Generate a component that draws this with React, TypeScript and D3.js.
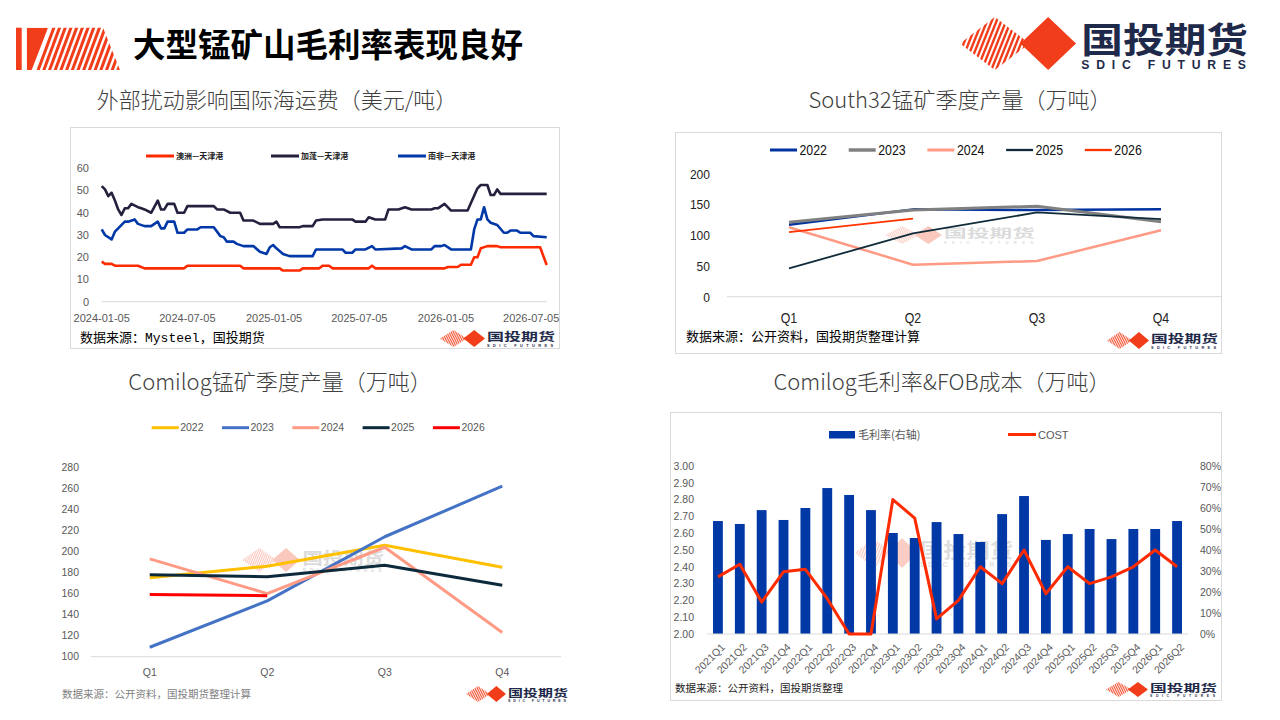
import React from "react";
import * as d3 from "d3";

const CJK = '"Noto Sans CJK SC", "Noto Sans", sans-serif';
const SANS = '"Liberation Sans", Arial, sans-serif';
const MONO = '"Liberation Mono", "DejaVu Sans Mono", monospace';

const RED = "#f23d1a";
const NAVY = "#1f2a4a";
const GRID = "#d9d9d9";
const TICK = "#595959";

// 外部扰动影响国际海运费: [week index from start, 美元/吨]
const freightStart = "2024-01-05";
const freightWeeks = 135;
const freightTicks = ["2024-01-05", "2024-07-05", "2025-01-05", "2025-07-05", "2026-01-05", "2026-07-05"];
const freightNames = ["澳洲—天津港", "加蓬—天津港", "南非—天津港"];
const freightColors = ["#ff2b00", "#24213f", "#0038a8"];
const australia: [number, number][] = [
  [0, 18], [1, 17], [3, 17], [4, 16.2], [11, 16.2], [13, 15], [25, 15], [26, 16.2], [42, 16.2], [43, 15],
  [54, 15], [55, 14], [60, 14], [61, 15], [66, 15], [67, 16.2], [69, 16.2], [70, 15], [81, 15], [82, 16.2],
  [83, 15], [104, 15], [105, 15.6], [108, 15.6], [109, 16.6], [112, 16.6], [113, 20], [114, 20], [115, 24],
  [117, 25], [120, 25], [121, 24.5], [133, 24.5], [135, 16.5],
];
const gabon: [number, number][] = [
  [0, 52], [1, 50.5], [2, 47.5], [3, 49], [4, 45.5], [5, 41.5], [6, 39], [7, 42], [8, 42], [9, 44], [11, 42.5],
  [12, 42], [13, 41.5], [15, 40], [17, 45.5], [18, 41.5], [19, 41.5], [20, 44], [22, 44], [23, 40], [25, 40],
  [26, 43], [34, 43], [35, 41.5], [37, 41.5], [39, 40], [42, 40], [43, 36.5], [46, 36.5], [48, 35], [52, 35],
  [53, 36], [54, 33.5], [60, 33.5], [61, 34], [64, 34], [65, 36.5], [67, 37], [76, 37], [77, 36], [80, 36],
  [81, 38], [83, 37], [86, 37], [87, 41.5], [90, 41.5], [92, 42.5], [94, 41.5], [100, 41.5], [101, 42],
  [102, 42], [104, 44], [106, 41], [111, 41], [114, 51], [115, 52.5], [117, 52.5], [118, 48], [119, 48],
  [120, 50.5], [121, 48.5], [135, 48.5],
];
const southAfrica: [number, number][] = [
  [0, 32.5], [1, 30], [3, 28], [4, 31.5], [5, 33], [7, 36], [8, 36], [10, 37], [11, 35], [13, 34], [15, 34],
  [17, 36], [18, 33], [19, 33], [20, 36], [22, 36], [23, 31], [25, 31], [26, 32.5], [29, 32.5], [30, 33.5],
  [34, 33.5], [36, 29.5], [37, 29], [38, 27], [40, 27], [41, 26], [43, 25], [46, 25], [48, 22.5], [50, 21.5],
  [51, 24.5], [52, 25.5], [53, 24], [55, 21.5], [57, 20.5], [64, 20.5], [65, 23.5], [73, 23.5], [74, 22],
  [76, 22], [77, 23.5], [80, 23.5], [82, 25], [83, 23.5], [91, 24], [92, 25], [94, 23.5], [100, 23.5],
  [101, 25], [103, 25], [104, 25.5], [106, 23.5], [112, 23.5], [113, 32.5], [114, 37], [115, 37], [116, 42.5],
  [117, 37], [118, 35.5], [120, 34.5], [122, 31], [123, 31], [124, 32], [126, 32], [127, 31], [130, 31],
  [131, 29.5], [135, 29],
];

// South32 / Comilog 季度产量（万吨）
const quarters = ["Q1", "Q2", "Q3", "Q4"];
const yearNames = ["2022", "2023", "2024", "2025", "2026"];
const s32_2022 = [117, 142, 141, 142];
const s32_2023 = [121, 141, 147, 122];
const s32_2024 = [113, 52, 58, 108];
const s32_2025 = [46, 103, 137, 126];
const s32_2026 = [105, 127];
const s32Colors = ["#0033a0", "#808080", "#ff9a85", "#0f2b3a", "#ff3300"];
const s32Widths = [2.5, 3, 2.5, 1.8, 1.8];

const com_2022 = [175, 186, 206, 185];
const com_2023 = [109, 153, 214, 262];
const com_2024 = [193, 160, 204, 123];
const com_2025 = [178, 176, 187, 168];
const com_2026 = [159, 158];
const comColors = ["#ffc000", "#4472c4", "#ff9a85", "#0d2a3c", "#ff0000"];

// Comilog 毛利率 & FOB 成本
const periods = [
  "2021Q1", "2021Q2", "2021Q3", "2021Q4", "2022Q1", "2022Q2", "2022Q3", "2022Q4",
  "2023Q1", "2023Q2", "2023Q3", "2023Q4", "2024Q1", "2024Q2", "2024Q3", "2024Q4",
  "2025Q1", "2025Q2", "2025Q3", "2025Q4", "2026Q1", "2026Q2",
];
const grossMargin = [
  0.538, 0.524, 0.59, 0.543, 0.6, 0.695, 0.662, 0.59, 0.481, 0.457, 0.533,
  0.476, 0.438, 0.571, 0.657, 0.448, 0.476, 0.5, 0.452, 0.5, 0.5, 0.538,
];
const fobCost = [
  2.34, 2.415, 2.19, 2.37, 2.385, 2.21, 2.0, 2.0, 2.8, 2.69, 2.09,
  2.2, 2.4, 2.3, 2.5, 2.24, 2.4, 2.3, 2.34, 2.4, 2.5, 2.4,
];

const diamond = (cx: number, cy: number, hw: number, hh: number) =>
  `${cx - hw},${cy} ${cx},${cy - hh} ${cx + hw},${cy} ${cx},${cy + hh}`;

function Logo({ id, x, y, w, h, gw, text = NAVY, opacity = 1 }: {
  id: string; x: number; y: number; w: number; h: number; gw: number; text?: string; opacity?: number;
}) {
  const cy = y + h / 2;
  const hx = x + gw * 0.3, hw = gw * 0.3;
  const sx = x + gw * 0.76, sw = gw * 0.24;
  const gap = Math.max(1.8, h * 0.09);
  const slant = h * 0.4;
  const stripes = d3.range(x - slant, x + gw * 0.62, gap);
  const tx = x + gw + Math.max(2, h * 0.1);
  const tw = x + w - tx;
  return (
    <g opacity={opacity}>
      <clipPath id={id}>
        <polygon points={diamond(hx, cy, hw, h / 2)} />
      </clipPath>
      <g clipPath={`url(#${id})`}>
        {stripes.map((s, i) => (
          <line key={i} x1={s} y1={y + h} x2={s + slant} y2={y} stroke={RED} strokeWidth={gap * 0.5} />
        ))}
      </g>
      <polygon points={diamond(sx, cy, sw, h / 2)} fill={RED} />
      <text x={tx} y={y + h * 0.67} fontSize={h * 0.67} fontWeight={700} fill={text} fontFamily={CJK}
        textLength={tw} lengthAdjust="spacingAndGlyphs">国投期货</text>
      <text x={tx} y={y + h * 0.98} fontSize={h * 0.23} fontWeight={700} fill={text} fontFamily={SANS}
        textLength={tw - 2} lengthAdjust="spacing">SDIC FUTURES</text>
    </g>
  );
}

function Header() {
  const stripes = d3.range(1, 16);
  return (
    <g>
      <rect x={16} y={27.7} width={5.7} height={42.3} fill={RED} />
      <clipPath id="hdr-clip">
        <polygon points="26.7,27.7 103,27.7 120,70 26.7,70" />
      </clipPath>
      <g clipPath="url(#hdr-clip)">
        <polygon points="26.7,27.7 48,27.7 31.7,70 26.7,70" fill={RED} />
        {stripes.map((k) => (
          <line key={k} x1={31.7 + k * 5.7} y1={72} x2={48 + k * 5.7 + 0.8} y2={26} stroke={RED} strokeWidth={3} />
        ))}
      </g>
      <text x={133} y={57} fontSize={32.5} fontWeight={700} fill="#000" fontFamily={CJK}>大型锰矿山毛利率表现良好</text>
      <Logo id="lg-top" x={960} y={17} w={288} h={53} gw={116} />
    </g>
  );
}

function Title({ x, y, children }: { x: number; y: number; children: string }) {
  return (
    <text x={x} y={y} textAnchor="middle" fontSize={22} fontWeight={300} fill="#404040" fontFamily={CJK}>
      {children}
    </text>
  );
}

function FreightChart() {
  const parse = d3.timeParse("%Y-%m-%d");
  const t0 = parse(freightStart)!;
  const x = d3.scaleTime().domain([t0, d3.timeDay.offset(t0, freightWeeks * 7)]).range([101.7, 546.7]);
  const y = d3.scaleLinear().domain([0, 60]).range([301.7, 168.3]);
  const line = d3.line<[number, number]>()
    .x((d) => x(d3.timeDay.offset(t0, d[0] * 7)))
    .y((d) => y(d[1]));
  const series = [australia, gabon, southAfrica];
  const legendX = [146, 271, 398];
  return (
    <g>
      <Title x={277} y={108}>外部扰动影响国际海运费（美元/吨）</Title>
      <clipPath id="fr-box">
        <rect x={70} y={127} width={490} height={222} />
      </clipPath>
      <rect x={70.5} y={127.5} width={489} height={221} fill="#fff" stroke={GRID} />
      {freightNames.map((n, i) => (
        <g key={n}>
          <line x1={legendX[i]} x2={legendX[i] + 28} y1={156} y2={156} stroke={freightColors[i]} strokeWidth={3} />
          <text x={legendX[i] + 30} y={156} dy="0.35em" fontSize={8} fontWeight={700} fill="#222" fontFamily={CJK}>{n}</text>
        </g>
      ))}
      {y.ticks(6).map((v) => (
        <text key={v} x={89} y={y(v)} dy="0.35em" textAnchor="end" fontSize={11} fill={TICK} fontFamily={SANS}>{v}</text>
      ))}
      <line x1={101.7} x2={546.7} y1={301.7} y2={301.7} stroke={GRID} />
      <g clipPath="url(#fr-box)">
        {freightTicks.map((t) => (
          <text key={t} x={x(parse(t)!)} y={322} textAnchor="middle" fontSize={11} fill={TICK} fontFamily={SANS}>{t}</text>
        ))}
      </g>
      {series.map((s, i) => (
        <path key={i} d={line(s)!} fill="none" stroke={freightColors[i]} strokeWidth={2.6} strokeLinejoin="round" />
      ))}
      <text x={80} y={342} fontSize={13} fill="#000" fontFamily={CJK}>
        数据来源：<tspan fontFamily={MONO}>Mysteel</tspan>，国投期货
      </text>
      <Logo id="lg1" x={440} y={330} w={115} h={17} gw={45} />
    </g>
  );
}

function South32Chart() {
  const x = d3.scaleBand<string>().domain(quarters).range([727, 1223]);
  const y = d3.scaleLinear().domain([0, 200]).range([296.7, 173.7]);
  const line = d3.line<number>()
    .x((_, i) => x(quarters[i])! + x.bandwidth() / 2)
    .y((d) => y(d));
  const series = [s32_2022, s32_2023, s32_2024, s32_2025, s32_2026];
  return (
    <g>
      <Title x={960} y={108}>South32锰矿季度产量（万吨）</Title>
      <rect x={675.5} y={132.5} width={546} height={221} fill="#fff" stroke={GRID} />
      {yearNames.map((n, i) => {
        const lx = 770 + i * 78.7;
        return (
          <g key={n}>
            <line x1={lx} x2={lx + 27} y1={150} y2={150} stroke={s32Colors[i]} strokeWidth={s32Widths[i] + 0.5} />
            <text x={lx + 29.5} y={150} dy="0.36em" fontSize={14.5} fill="#111" fontFamily={SANS}
              textLength={27.5} lengthAdjust="spacingAndGlyphs">{n}</text>
          </g>
        );
      })}
      {y.ticks(4).map((v) => (
        <text key={v} x={710} y={y(v)} dy="0.36em" textAnchor="end" fontSize={13.5} fill="#222" fontFamily={SANS}
          textLength={String(v).length * 6.7} lengthAdjust="spacingAndGlyphs">{v}</text>
      ))}
      <line x1={727} x2={1222} y1={296.7} y2={296.7} stroke={GRID} />
      {quarters.map((q) => (
        <text key={q} x={x(q)! + x.bandwidth() / 2} y={323} textAnchor="middle" fontSize={14.5} fill="#222" fontFamily={SANS}
          textLength={16.5} lengthAdjust="spacingAndGlyphs">{q}</text>
      ))}
      <Logo id="wm2" x={885} y={226} w={150} h={18} gw={57} text="#7f7f7f" opacity={0.28} />
      {series.map((s, i) => (
        <path key={i} d={line(s)!} fill="none" stroke={s32Colors[i]} strokeWidth={s32Widths[i]} strokeLinejoin="round" />
      ))}
      <text x={686} y={341} fontSize={13} fill="#000" fontFamily={CJK}>数据来源：公开资料，国投期货整理计算</text>
      <Logo id="lg2" x={1107} y={332} w={111} h={17} gw={42} />
    </g>
  );
}

function ComilogChart() {
  const x = d3.scaleBand<string>().domain(quarters).range([91, 561]);
  const y = d3.scaleLinear().domain([100, 280]).range([656.7, 467.3]);
  const line = d3.line<number>()
    .x((_, i) => x(quarters[i])! + x.bandwidth() / 2)
    .y((d) => y(d));
  const series = [com_2022, com_2023, com_2024, com_2025, com_2026];
  return (
    <g>
      <Title x={280} y={390}>Comilog锰矿季度产量（万吨）</Title>
      {yearNames.map((n, i) => {
        const lx = 151.7 + i * 70.3;
        return (
          <g key={n}>
            <line x1={lx} x2={lx + 27} y1={427.7} y2={427.7} stroke={comColors[i]} strokeWidth={3} />
            <text x={lx + 28.5} y={427.7} dy="0.36em" fontSize={10.5} fill={TICK} fontFamily={SANS}>{n}</text>
          </g>
        );
      })}
      {y.ticks(9).map((v) => (
        <text key={v} x={79} y={y(v)} dy="0.36em" textAnchor="end" fontSize={10.5} fill={TICK} fontFamily={SANS}>{v}</text>
      ))}
      <line x1={91} x2={561} y1={656.7} y2={656.7} stroke={GRID} />
      {quarters.map((q) => (
        <text key={q} x={x(q)! + x.bandwidth() / 2} y={675.5} textAnchor="middle" fontSize={10.5} fill={TICK} fontFamily={SANS}>{q}</text>
      ))}
      <Logo id="wm3" x={242} y={548} w={142} h={24} gw={58} text="#7f7f7f" opacity={0.28} />
      {series.map((s, i) => (
        <path key={i} d={line(s)!} fill="none" stroke={comColors[i]} strokeWidth={3} strokeLinejoin="round" />
      ))}
      <text x={62} y={698} fontSize={10.5} fill="#7f7f7f" fontFamily={CJK}>数据来源：公开资料，国投期货整理计算</text>
      <Logo id="lg3" x={466} y={686} w={102} h={16} gw={40} />
    </g>
  );
}

function MarginChart() {
  const x = d3.scaleBand<string>().domain(periods).range([707, 1188]).paddingInner(0.55).paddingOuter(0.275);
  const yL = d3.scaleLinear().domain([2, 3]).range([634, 466]);
  const yR = d3.scaleLinear().domain([0, 0.8]).range([634, 466]);
  const cx = (p: string) => x(p)! + x.bandwidth() / 2;
  const line = d3.line<number>().x((_, i) => cx(periods[i])).y((d) => yL(d));
  const pct = d3.format(".0%");
  return (
    <g>
      <Title x={942} y={390}>Comilog毛利率&FOB成本（万吨）</Title>
      <rect x={670.5} y={412.5} width={551} height={288} fill="#fff" stroke={GRID} />
      <rect x={829} y={431} width={26} height={7.5} fill="#0039a6" />
      <text x={858} y={434.8} dy="0.36em" fontSize={11} fill={TICK} fontFamily={CJK}>毛利率(右轴)</text>
      <line x1={1008} x2={1036} y1={434.5} y2={434.5} stroke="#ff2b00" strokeWidth={3} />
      <text x={1038} y={434.8} dy="0.36em" fontSize={11} fill={TICK} fontFamily={SANS}>COST</text>
      {yL.ticks(10).map((v) => (
        <text key={v} x={694} y={yL(v)} dy="0.36em" textAnchor="end" fontSize={10.5} fill={TICK} fontFamily={SANS}>{v.toFixed(2)}</text>
      ))}
      {yR.ticks(8).map((v) => (
        <text key={v} x={1200} y={yR(v)} dy="0.36em" fontSize={10.5} fill={TICK} fontFamily={SANS}>{pct(v)}</text>
      ))}
      <Logo id="wm4" x={855} y={538} w={158} h={30} gw={62} text="#7f7f7f" opacity={0.25} />
      {periods.map((p, i) => (
        <rect key={p} x={x(p)} y={yR(grossMargin[i])} width={x.bandwidth()} height={634 - yR(grossMargin[i])} fill="#0039a6" />
      ))}
      <line x1={707} x2={1188} y1={634} y2={634} stroke={GRID} />
      {periods.map((p) => (
        <text key={p} transform={`translate(${cx(p) + 5},${645}) rotate(-45)`} textAnchor="end" dominantBaseline="central"
          fontSize={10.5} fill={TICK} fontFamily={SANS}>{p}</text>
      ))}
      <path d={line(fobCost)!} fill="none" stroke="#ff2b00" strokeWidth={3} strokeLinejoin="round" />
      <text x={675} y={692} fontSize={10.5} fill="#222" fontFamily={CJK}>数据来源：公开资料，国投期货整理</text>
      <Logo id="lg4" x={1106} y={682} w={111} h={15} gw={42} />
    </g>
  );
}

export default function App() {
  return (
    <svg width={1280} height={720} viewBox="0 0 1280 720"
      style={{ position: "absolute", left: 0, top: 0, background: "#fff" }}>
      <rect width={1280} height={720} fill="#fff" />
      <Header />
      <FreightChart />
      <South32Chart />
      <ComilogChart />
      <MarginChart />
    </svg>
  );
}
